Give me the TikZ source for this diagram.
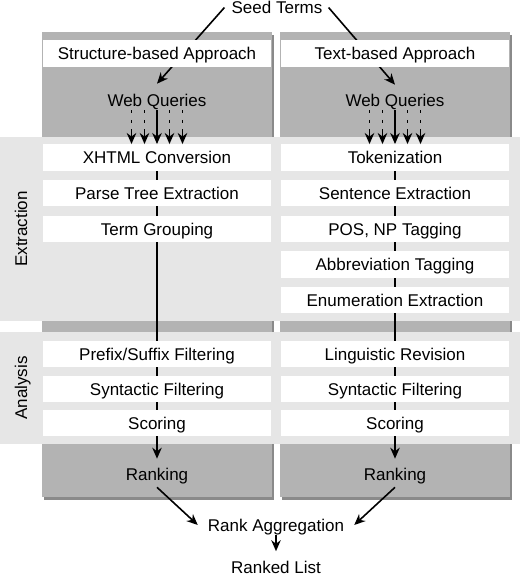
\documentclass[tikz,border=0pt]{standalone}
\usepackage{fontspec}
\setmainfont{Liberation Sans}
\usetikzlibrary{arrows.meta}
\pgfdeclarelayer{back}
\pgfdeclarelayer{mid}
\pgfsetlayers{back,mid,main}
\definecolor{colgray}{HTML}{B3B3B3}
\definecolor{bandgray}{HTML}{E6E6E6}
\definecolor{shadowgray}{HTML}{8A8A8A}
\newcommand{\lblfont}{\fontsize{17}{20}\selectfont}
\tikzset{
  txt/.style={font=\lblfont, inner sep=0pt, text height=12.2pt, text depth=0pt},
  box/.style={txt, fill=white, minimum width=228pt, minimum height=26.5pt},
  arr/.style={-{Stealth[length=11pt,width=9.5pt,inset=3.5pt]}, line width=1.6pt},
  ln/.style={line width=1.6pt},
  dotln/.style={ln, dash pattern=on 3pt off 6.5pt},
}
\begin{document}
\begin{tikzpicture}[x=1pt,y=-1pt]
\useasboundingbox (0,0) rectangle (520,576);
% columns and bands
\begin{pgfonlayer}{back}
  \fill[shadowgray] (44,35) rectangle (274,500);
  \fill[shadowgray] (282,35) rectangle (512,500);
  \fill[colgray] (42,32) rectangle (272,497);
  \fill[colgray] (280,32) rectangle (510,497);
  \fill[bandgray] (0,137) rectangle (520,321);
  \fill[bandgray] (0,332) rectangle (520,444);
\end{pgfonlayer}
% side labels
\node[txt, rotate=90] (lext) at (21,229) {Extraction};
\node[txt, rotate=90] (lana) at (21,388) {Analysis};
% top / bottom labels
\node[txt] (seed) at (277,7.5) {Seed Terms};
\node[txt] (ra) at (276,525) {Rank Aggregation};
\node[txt] (rl) at (276,567.5) {Ranked List};
% left column
\node[box] (hL) at (157,53.5) {Structure-based Approach};
\node[txt] (wqL) at (157,100) {Web Queries};
\node[box] (xL) at (157,157.5) {XHTML Conversion};
\node[box] (pL) at (157,193) {Parse Tree Extraction};
\node[box] (tL) at (157,229) {Term Grouping};
\node[box] (fL) at (157,354) {Prefix/Suffix Filtering};
\node[box] (sL) at (157,389) {Syntactic Filtering};
\node[box] (scL) at (157,423) {Scoring};
\node[txt] (rkL) at (157,474) {Ranking};
% right column
\node[box] (hR) at (395,53.5) {Text-based Approach};
\node[txt] (wqR) at (395,100) {Web Queries};
\node[box] (xR) at (395,157.5) {Tokenization};
\node[box] (pR) at (395,193) {Sentence Extraction};
\node[box] (tR) at (395,229) {POS, NP Tagging};
\node[box] (aR) at (395,264.5) {Abbreviation Tagging};
\node[box] (eR) at (395,300) {Enumeration Extraction};
\node[box] (fR) at (395,354) {Linguistic Revision};
\node[box] (sR) at (395,389) {Syntactic Filtering};
\node[box] (scR) at (395,423) {Scoring};
\node[txt] (rkR) at (395,474) {Ranking};
% connectors behind the boxes
\begin{pgfonlayer}{mid}
  \draw[arr] ([xshift=-7pt]seed.west) -- ([yshift=10pt]wqL.north);
  \draw[arr] ([xshift=6pt]seed.east) -- ([yshift=9pt]wqR.north);
  \draw[ln] (xL.center) -- (scL.center);
  \draw[ln] (xR.center) -- (scR.center);
\end{pgfonlayer}
% query arrows
\foreach \c in {L,R}{
  \draw[arr] ([yshift=-4pt]wq\c.south) -- (x\c.north);
  \foreach \d in {-25.5,-12.5,12.5,25.5}{
    \draw[dotln] ([xshift=\d pt, yshift=-4pt]wq\c.south) -- ([xshift=\d pt, yshift=12pt]x\c.north);
    \draw[arr] ([xshift=\d pt, yshift=12pt]x\c.north) -- ([xshift=\d pt]x\c.north);
  }
  \draw[arr] (sc\c.south) -- ([yshift=9pt]rk\c.north);
}
% bottom arrows
\draw[arr] ([yshift=-7pt]rkL.south) -- ([xshift=-10pt]ra.west);
\draw[arr] ([yshift=-7pt]rkR.south) -- ([xshift=10pt]ra.east);
\draw[arr] ([yshift=-4pt]ra.south) -- ([yshift=10pt]rl.north);
\end{tikzpicture}
\end{document}
